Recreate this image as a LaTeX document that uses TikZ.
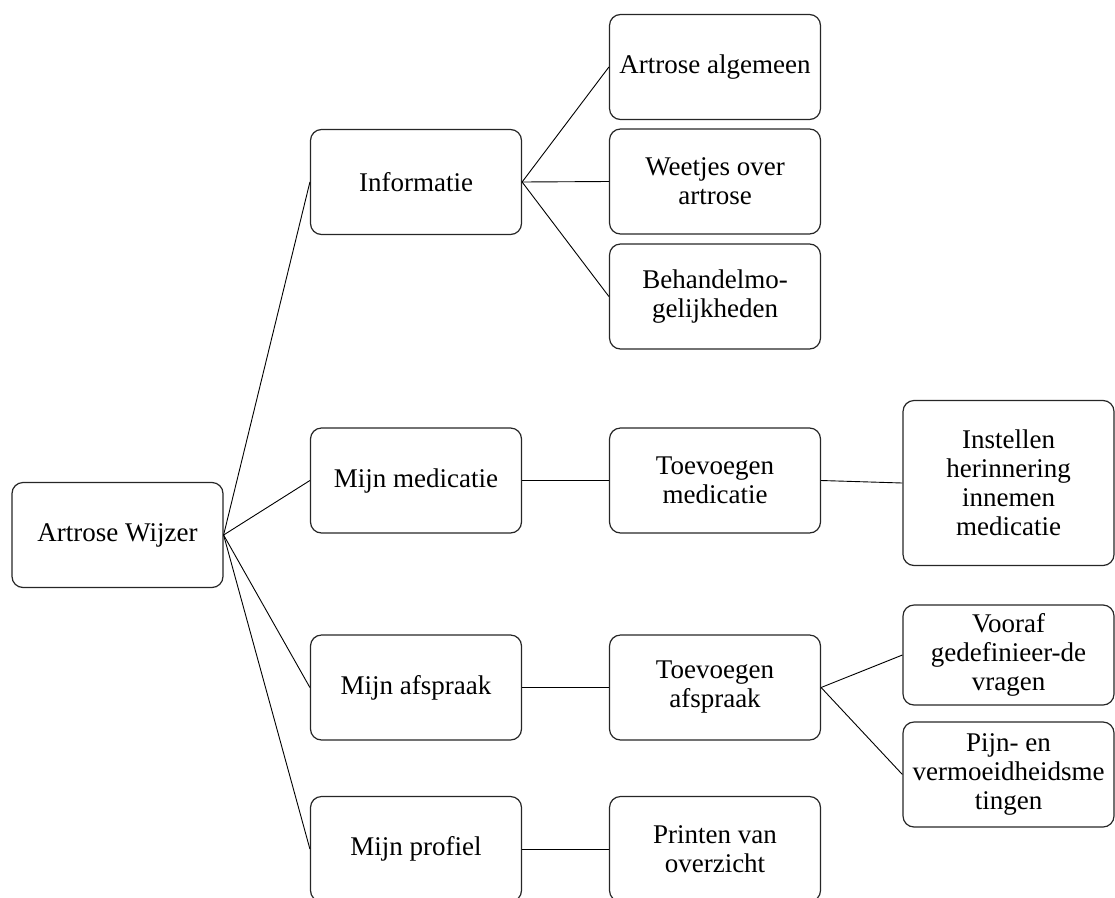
\documentclass[tikz,border=0pt]{standalone}
\usepackage{fontspec}
\setmainfont{Liberation Serif}
\begin{document}
\begin{tikzpicture}[x=1pt,y=-1pt,
  box/.style={draw=black!85, line width=1.2pt, rounded corners=11pt, minimum width=211pt, minimum height=105pt, align=center, inner sep=2pt, font=\fontsize{27}{29}\selectfont},
  tall/.style={box, minimum height=165pt},
  short/.style={box, minimum height=100pt},
  link/.style={draw=black, line width=0.9pt}]
\useasboundingbox (0,0) rectangle (1115,897);
\begin{scope}
\clip (0,0) rectangle (1115,897);
\node[box] (root) at (117.5,535) {Artrose Wijzer};
\node[box] (info) at (416,182) {Informatie};
\node[box] (med) at (416,480.5) {Mijn medicatie};
\node[box] (afs) at (416,687.5) {Mijn afspraak};
\node[box] (prof) at (416,849) {Mijn profiel};
\node[box] (alg) at (715,67) {Artrose algemeen};
\node[box] (weet) at (715,181.5) {Weetjes over\\artrose};
\node[box] (beh) at (715,296.5) {Behandelmo-\\gelijkheden};
\node[box] (tmed) at (715,480.5) {Toevoegen\\medicatie};
\node[box] (tafs) at (715,687.5) {Toevoegen\\afspraak};
\node[box] (print) at (715,849) {Printen van\\overzicht};
\node[tall] (inst) at (1008.5,483) {Instellen\\herinnering\\innemen\\medicatie};
\node[short] (voor) at (1008.5,655) {Vooraf\\gedefinieer-de\\vragen};
\node[box] (pijn) at (1008.5,774.5) {Pijn- en\\vermoeidheidsme\\tingen};
\draw[link] (root.east) -- (info.west);
\draw[link] (root.east) -- (med.west);
\draw[link] (root.east) -- (afs.west);
\draw[link] (root.east) -- (prof.west);
\draw[link] (info.east) -- (alg.west);
\draw[link] (info.east) -- (weet.west);
\draw[link] (info.east) -- (beh.west);
\draw[link] (med.east) -- (tmed.west);
\draw[link] (tmed.east) -- (inst.west);
\draw[link] (afs.east) -- (tafs.west);
\draw[link] (tafs.east) -- (voor.west);
\draw[link] (tafs.east) -- (pijn.west);
\draw[link] (prof.east) -- (print.west);
\end{scope}
\end{tikzpicture}
\end{document}
